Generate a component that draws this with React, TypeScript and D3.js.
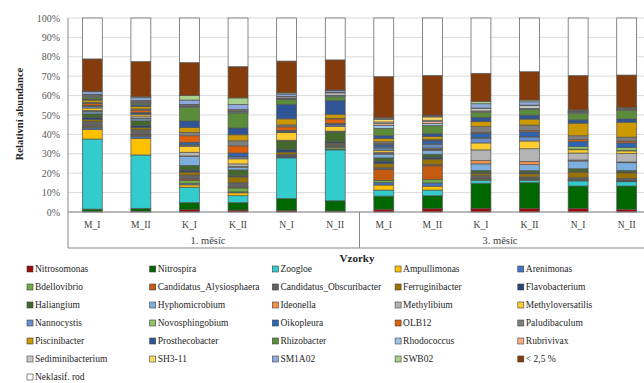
import React from "react";
import * as d3 from "d3";

// samples along the x axis, grouped by month
const samples = ["M_I", "M_II", "K_I", "K_II", "N_I", "N_II", "M_I", "M_II", "K_I", "K_II", "N_I", "N_II"];
const months = ["1. měsíc", "3. měsíc"];

// relative abundance (%) per genus, one value per sample
const nitrosomonas = [0.3, 0.4, 1.2, 1.0, 0.8, 0.5, 1.4, 1.7, 1.9, 1.9, 1.9, 1.4];
const nitrospira = [1.2, 1.5, 3.6, 3.8, 6.1, 5.3, 6.8, 6.7, 12.9, 13.2, 11.5, 12.0];
const zoogloe = [36.1, 27.5, 8.0, 3.6, 21.0, 26.2, 3.1, 2.9, 1.5, 1.2, 2.6, 2.2];
const ampullimonas = [5.0, 8.6, 1.2, 1.5, 0.3, 0.2, 2.6, 2.0, 0.3, 0.3, 0.2, 0.3];
const arenimonas = [0.8, 1.0, 0.8, 0.5, 0.3, 0.2, 1.2, 1.7, 0.2, 0.2, 0.2, 0.2];
const bdellovibrio = [0.5, 0.4, 1.4, 2.0, 0.4, 1.0, 1.2, 1.7, 0.5, 0.3, 0.3, 0.3];
const alysiosphaera = [0.5, 0.5, 0.8, 0.5, 0.3, 0.3, 5.7, 7.1, 0.2, 0.2, 0.2, 0.2];
const obscuribacter = [2.2, 2.5, 2.0, 2.2, 0.5, 1.0, 0.8, 0.6, 1.4, 0.8, 0.8, 0.7];
const ferruginibacter = [1.0, 1.2, 1.6, 3.0, 1.2, 0.8, 2.2, 2.9, 1.0, 1.6, 2.9, 2.9];
const flavobacterium = [1.0, 1.0, 1.0, 0.6, 1.4, 0.7, 1.2, 1.0, 0.3, 0.6, 0.3, 0.4];
const haliangium = [2.0, 2.4, 2.4, 3.0, 4.3, 5.0, 1.7, 1.5, 1.2, 1.0, 1.4, 0.8];
const hyphomicrobium = [1.0, 1.0, 4.6, 1.4, 0.2, 0.2, 1.9, 2.0, 3.4, 3.1, 4.0, 4.0];
const ideonella = [0.3, 0.3, 0.3, 0.3, 0.1, 0.1, 0.4, 0.3, 1.7, 1.7, 0.5, 0.4];
const methylibium = [0.5, 0.8, 1.9, 1.4, 0.1, 0.2, 0.6, 0.4, 5.5, 6.5, 3.6, 4.3];
const methyloversatilis = [1.2, 1.0, 3.1, 2.6, 3.9, 2.4, 1.0, 0.5, 3.6, 4.0, 1.7, 1.4];
const nannocystis = [0.8, 0.5, 0.5, 1.0, 0.3, 0.8, 1.2, 1.8, 2.4, 2.1, 0.3, 0.3];
const novosphingobium = [0.3, 0.3, 0.3, 0.3, 0.2, 0.2, 0.5, 0.3, 0.3, 0.3, 1.4, 1.4];
const oikopleura = [0.3, 0.4, 1.2, 1.7, 0.7, 0.6, 1.2, 1.5, 2.2, 2.3, 2.6, 2.4];
const olb12 = [1.0, 1.2, 3.4, 3.7, 1.8, 2.3, 0.5, 0.4, 0.6, 0.6, 0.9, 1.0];
const paludibaculum = [0.5, 0.6, 1.7, 2.6, 1.0, 0.3, 1.0, 0.5, 2.9, 2.9, 2.0, 2.0];
const piscinibacter = [1.2, 1.4, 2.6, 3.1, 3.1, 2.1, 1.7, 1.4, 2.6, 3.1, 6.5, 7.7];
const prosthecobacter = [0.5, 0.7, 3.3, 3.5, 7.4, 7.0, 1.4, 1.4, 2.2, 2.0, 1.7, 1.7];
const rhizobacter = [1.0, 0.8, 6.9, 7.8, 2.5, 2.0, 3.8, 4.3, 2.6, 2.9, 3.4, 4.3];
const rhodococcus = [0.5, 0.4, 0.5, 0.5, 0.4, 0.5, 1.6, 1.0, 0.4, 0.3, 0.3, 0.2];
const rubrivivax = [0.3, 0.3, 0.4, 0.4, 0.3, 0.3, 0.9, 1.0, 0.3, 0.3, 0.2, 0.2];
const sediminibacterium = [0.4, 0.4, 0.5, 0.5, 0.7, 1.2, 0.8, 0.7, 1.2, 1.4, 0.3, 0.2];
const sh311 = [0.3, 0.3, 0.3, 0.3, 0.3, 0.3, 1.4, 1.7, 0.3, 0.3, 0.3, 0.2];
const sm1a02 = [1.3, 1.5, 2.2, 2.6, 1.2, 0.8, 0.5, 0.5, 2.2, 1.7, 0.3, 0.3];
const swb02 = [0.3, 0.5, 2.4, 3.4, 0.6, 0.4, 0.3, 0.4, 1.2, 0.9, 0.3, 0.4];
const below25 = [16.6, 18.1, 16.9, 16.1, 16.4, 15.5, 21.2, 20.5, 14.5, 14.6, 17.7, 16.8];
const unclassified = [21.1, 22.5, 23.0, 25.1, 22.2, 21.6, 30.2, 29.6, 28.5, 27.7, 29.7, 29.4];

const seriesNames = [
  "Nitrosomonas", "Nitrospira", "Zoogloe", "Ampullimonas", "Arenimonas",
  "Bdellovibrio", "Candidatus_Alysiosphaera", "Candidatus_Obscuribacter", "Ferruginibacter", "Flavobacterium",
  "Haliangium", "Hyphomicrobium", "Ideonella", "Methylibium", "Methyloversatilis",
  "Nannocystis", "Novosphingobium", "Oikopleura", "OLB12", "Paludibaculum",
  "Piscinibacter", "Prosthecobacter", "Rhizobacter", "Rhodococcus", "Rubrivivax",
  "Sediminibacterium", "SH3-11", "SM1A02", "SWB02", "< 2,5 %",
  "Neklasif. rod",
];
const seriesValues = [
  nitrosomonas, nitrospira, zoogloe, ampullimonas, arenimonas,
  bdellovibrio, alysiosphaera, obscuribacter, ferruginibacter, flavobacterium,
  haliangium, hyphomicrobium, ideonella, methylibium, methyloversatilis,
  nannocystis, novosphingobium, oikopleura, olb12, paludibaculum,
  piscinibacter, prosthecobacter, rhizobacter, rhodococcus, rubrivivax,
  sediminibacterium, sh311, sm1a02, swb02, below25,
  unclassified,
];
const seriesColors = [
  "#9c0a0a", "#006600", "#33cccc", "#ffc000", "#4472c4",
  "#70ad47", "#c55a11", "#636363", "#997300", "#264478",
  "#43682b", "#7cafdd", "#f4904a", "#b4b4b4", "#ffcd2e",
  "#698ed0", "#8fc46a", "#2e64b4", "#dc600c", "#7f7f7f",
  "#cc9a00", "#2f5597", "#5b8c3a", "#9dc3e6", "#f4b183",
  "#c9c9c9", "#ffd966", "#8faadc", "#a9d18e", "#843c0c",
  "#ffffff",
];

const W = 644, H = 383;
const font = "'Liberation Serif', 'Times New Roman', serif";

export default function App() {
  const rows = samples.map((_, i) => {
    const r: Record<string, number | string> = { idx: String(i) };
    seriesNames.forEach((n, k) => { r[n] = seriesValues[k][i]; });
    return r;
  });
  const stacked = d3.stack<any>().keys(seriesNames).offset(d3.stackOffsetExpand)(rows);

  const x = d3.scaleBand().domain(samples.map((_, i) => String(i)))
    .range([68, 651]).paddingInner(0.59).paddingOuter(0.295);
  const y = d3.scaleLinear().domain([0, 1]).range([212, 18]);
  const ticks = d3.range(0, 1.0001, 0.1);
  const pct = d3.format(".0%");

  const axisBottom = 248;
  const groupEdge = x.step() * 6 + 68;

  return (
    <svg width={W} height={H} style={{ position: "absolute", left: 0, top: 0, background: "#fff" }} fontFamily={font}>
      {ticks.map((t) => (
        <g key={t}>
          <line x1={68} x2={651} y1={y(t)} y2={y(t)} stroke="#d9d9d9" strokeWidth={1} />
          <text x={60} y={y(t)} dy="0.35em" textAnchor="end" fontSize={10} fill="#595959">{pct(t)}</text>
        </g>
      ))}

      {stacked.map((s, k) => (
        <g key={s.key} fill={seriesColors[k]}>
          {s.map((d, i) => (
            <rect key={i} x={x(String(i))} width={x.bandwidth()} y={y(d[1])}
              height={Math.max(0, y(d[0]) - y(d[1]))} stroke="#555" strokeWidth={0.7} />
          ))}
        </g>
      ))}

      {/* axes */}
      <line x1={68} x2={68} y1={18} y2={axisBottom} stroke="#868686" />
      <line x1={68} x2={651} y1={y(0)} y2={y(0)} stroke="#868686" />
      <line x1={68} x2={651} y1={axisBottom} y2={axisBottom} stroke="#868686" />
      <line x1={groupEdge} x2={groupEdge} y1={y(0)} y2={axisBottom} stroke="#868686" />
      {samples.map((s, i) => (
        <text key={i} x={(x(String(i)) as number) + x.bandwidth() / 2} y={225} dy="0.35em"
          textAnchor="middle" fontSize={9.5} fill="#404040">{s}</text>
      ))}
      {months.map((m, g) => (
        <text key={m} x={g === 0 ? 208 : 500} y={240} dy="0.35em"
          textAnchor="middle" fontSize={10.5} fill="#404040">{m}</text>
      ))}
      <text x={357} y={258} dy="0.35em" textAnchor="middle" fontSize={11} fontWeight="bold" fill="#262626">Vzorky</text>
      <text transform="translate(19,114) rotate(-90)" dy="0.35em" textAnchor="middle" fontSize={10.5}
        fontWeight="bold" fill="#262626">Relativní abundance</text>

      {/* legend */}
      {seriesNames.map((n, k) => {
        const col = k % 5, row = Math.floor(k / 5);
        const lx = 30 + col * 122.7, ly = 269 + row * 18;
        return (
          <g key={n}>
            <rect x={lx - 3} y={ly - 3} width={6} height={6} fill={seriesColors[k]} stroke="#404040" strokeWidth={0.6} />
            <text x={lx + 5} y={ly} dy="0.35em" fontSize={9.5} fill="#262626">{n}</text>
          </g>
        );
      })}
    </svg>
  );
}
